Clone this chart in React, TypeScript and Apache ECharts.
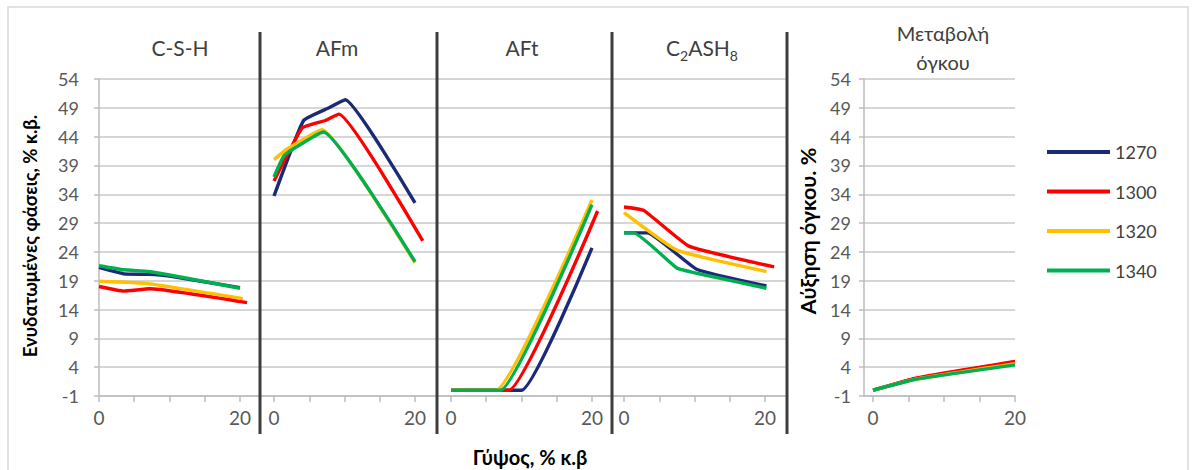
import React, { useEffect, useRef } from "react";
import * as echarts from "echarts";

// ---------- data ----------
const SERIES_NAMES = ["1270", "1300", "1320", "1340"];
const SERIES_COLORS = ["#1b2a78", "#ff0000", "#ffc000", "#00b050"];

const PANEL_TITLES = ["C-S-H", "AFm", "AFt", "C{s|2}ASH{s|8}", "Μεταβολή\nόγκου"];
const Y_MIN = -1;
const Y_MAX = 54;
const Y_STEP = 5;
const X_TICKS = [0, 5, 10, 15, 20];
const X_LABELS = [0, 20];

const Y_TITLE_LEFT = "Ενυδατωμένες φάσεις, % κ.β.";
const Y_TITLE_RIGHT = "Αύξηση όγκου. %";
const X_TITLE = "Γύψος, % κ.β";

// order: 1270, 1300, 1320, 1340  -> [gypsum %, value]
const CSH_DATA = [
  [[0, 21.3], [3.5, 20.2], [7, 20.1], [10, 19.8], [20, 17.8]],
  [[0, 18.0], [3.5, 17.2], [7.2, 17.6], [21, 15.2]],
  [[0, 18.9], [7, 18.5], [20.4, 15.9]],
  [[0, 21.6], [3.5, 20.9], [7, 20.6], [10, 20.0], [20, 17.7]],
];
const AFM_DATA = [
  [[0, 33.7], [4.2, 46.8], [7.8, 49.0], [10.1, 50.4], [20, 32.5]],
  [[0, 36.3], [4, 45.5], [7.3, 46.8], [9.2, 47.9], [21.1, 25.9]],
  [[0, 40.0], [1.8, 41.8], [6.8, 45.2], [20, 22.1]],
  [[0, 37.0], [1.5, 40.8], [7, 44.8], [20, 22.3]],
];
const AFT_DATA = [
  [[0, 0], [10, 0], [20, 24.7]],
  [[0, 0], [8.2, 0], [20.8, 31.1]],
  [[0, 0], [6.4, 0], [20, 33.0]],
  [[0, 0], [7, 0], [20, 32.2]],
];
const C2ASH8_DATA = [
  [[0, 27.3], [3.3, 27.3], [10.3, 21.0], [20.2, 18.1]],
  [[0, 31.8], [2.8, 31.2], [9.2, 25.0], [21.3, 21.4]],
  [[0, 30.8], [7.5, 24.3], [20.2, 20.6]],
  [[0, 27.3], [1.4, 27.3], [7.5, 21.2], [10.3, 20.3], [20.2, 17.7]],
];
const VOLUME_DATA = [
  [[0, 0], [6, 2.0], [20, 4.9]],
  [[0, 0], [6, 2.1], [20, 5.0]],
  [[0, 0], [6, 1.9], [20, 4.6]],
  [[0, 0], [6, 1.9], [20, 4.4]],
];
const PANEL_DATA = [CSH_DATA, AFM_DATA, AFT_DATA, C2ASH8_DATA, VOLUME_DATA];

// ---------- layout ----------
const FONT = "Lato, 'Noto Sans', sans-serif";
const GRID_TOP = 79;
const GRID_HEIGHT = 317;
const PANELS = [
  { left: 99, width: 161, min: 0, max: 22.84, yAxis: true, labelMargin: 20 },
  { left: 260, width: 177, min: -1.986, max: 23.12, yAxis: false, labelMargin: 0 },
  { left: 437, width: 175, min: -1.986, max: 22.84, yAxis: false, labelMargin: 0 },
  { left: 612, width: 175, min: -1.702, max: 23.12, yAxis: false, labelMargin: 0 },
  { left: 864, width: 151, min: -1.27, max: 20, yAxis: true, labelMargin: 13 },
];
const TITLE_X = [180, 337, 522, 702, 943];
const DIVIDERS = [260, 437, 612, 787];

const GRID_COLOR = "#c9c9c9";
const AXIS_COLOR = "#bdbdbd";
const LABEL_COLOR = "#595959";
const TITLE_COLOR = "#404040";

export default function App() {
  const ref = useRef<HTMLDivElement>(null);

  useEffect(() => {
    if (!ref.current) return;
    const chart = echarts.init(ref.current, undefined, { renderer: "svg" });

    const grid = PANELS.map((p) => ({
      left: p.left,
      top: GRID_TOP,
      width: p.width,
      height: GRID_HEIGHT,
      containLabel: false,
    }));

    const xAxis = PANELS.map((p, i) => ({
      gridIndex: i,
      type: "value",
      min: p.min,
      max: p.max,
      axisLine: { show: true, onZero: false, lineStyle: { color: AXIS_COLOR, width: 1.5 } },
      axisTick: {
        show: true,
        customValues: X_TICKS,
        length: 6,
        lineStyle: { color: AXIS_COLOR, width: 1.5 },
      },
      axisLabel: {
        customValues: X_LABELS,
        fontSize: 19,
        color: LABEL_COLOR,
        fontFamily: FONT,
        margin: 12,
      },
      splitLine: { show: false },
    }));

    const yAxis = PANELS.map((p, i) => ({
      gridIndex: i,
      type: "value",
      min: Y_MIN,
      max: Y_MAX,
      interval: Y_STEP,
      axisLine: { show: p.yAxis, onZero: false, lineStyle: { color: AXIS_COLOR, width: 1.5 } },
      axisTick: { show: p.yAxis, length: 5, lineStyle: { color: AXIS_COLOR, width: 1.5 } },
      axisLabel: {
        show: p.yAxis,
        fontSize: 18,
        color: LABEL_COLOR,
        fontFamily: FONT,
        margin: p.labelMargin,
      },
      splitLine: { show: true, lineStyle: { color: GRID_COLOR, width: 1.5 } },
    }));

    const series: any[] = [];
    PANEL_DATA.forEach((panel, pi) => {
      panel.forEach((points, si) => {
        series.push({
          type: "line",
          name: SERIES_NAMES[si],
          xAxisIndex: pi,
          yAxisIndex: pi,
          data: points,
          smooth: 0.12,
          symbol: "none",
          showSymbol: false,
          clip: false,
          z: 2 + si,
          lineStyle: { color: SERIES_COLORS[si], width: 3.4 },
          itemStyle: { color: SERIES_COLORS[si] },
        });
      });
    });

    const graphic: any[] = [
      {
        type: "rect",
        shape: { x: 8, y: 7, width: 1180, height: 470 },
        style: { fill: "none", stroke: "#d9d9d9", lineWidth: 1.5 },
        silent: true,
      },
      ...DIVIDERS.map((x) => ({
        type: "line",
        shape: { x1: x, y1: 32, x2: x, y2: 434 },
        style: { stroke: "#3d3d3d", lineWidth: 3 },
        z: 10,
        silent: true,
      })),
      ...PANEL_TITLES.map((t, i) => ({
        type: "text",
        x: TITLE_X[i],
        y: 47,
        style: {
          text: t,
          fontSize: i === 4 ? 20 : 21,
          fontFamily: FONT,
          fill: TITLE_COLOR,
          align: "center",
          verticalAlign: "middle",
          lineHeight: i === 4 ? 29 : 30,
          rich: {
            s: { fontSize: 14, lineHeight: 14, verticalAlign: "bottom", fill: TITLE_COLOR, fontFamily: FONT },
          },
        },
        silent: true,
      })),
      {
        type: "text",
        x: 30,
        y: 236,
        rotation: Math.PI / 2,
        style: {
          text: Y_TITLE_LEFT,
          fontSize: 18.5,
          fontWeight: "bold",
          fontFamily: FONT,
          fill: "#000",
          align: "center",
          verticalAlign: "middle",
        },
        silent: true,
      },
      {
        type: "text",
        x: 808,
        y: 231,
        rotation: Math.PI / 2,
        style: {
          text: Y_TITLE_RIGHT,
          fontSize: 21.5,
          fontWeight: "bold",
          fontFamily: FONT,
          fill: "#000",
          align: "center",
          verticalAlign: "middle",
        },
        silent: true,
      },
      {
        type: "text",
        x: 530,
        y: 457,
        style: {
          text: X_TITLE,
          fontSize: 20,
          fontWeight: "bold",
          fontFamily: FONT,
          fill: "#000",
          align: "center",
          verticalAlign: "middle",
        },
        silent: true,
      },
    ];

    chart.setOption({
      animation: false,
      backgroundColor: "#ffffff",
      grid,
      xAxis,
      yAxis,
      series,
      graphic,
      legend: {
        data: SERIES_NAMES.map((n) => ({ name: n, icon: "rect" })),
        orient: "vertical",
        left: 1042,
        top: 138,
        itemWidth: 63,
        itemHeight: 4,
        itemGap: 21.5,
        textStyle: { fontSize: 18, color: TITLE_COLOR, fontFamily: FONT },
        selectedMode: false,
      },
    });

    return () => chart.dispose();
  }, []);

  return (
    <div
      ref={ref}
      style={{ position: "fixed", left: 0, top: 0, width: 1194, height: 470, background: "#fff" }}
    />
  );
}
